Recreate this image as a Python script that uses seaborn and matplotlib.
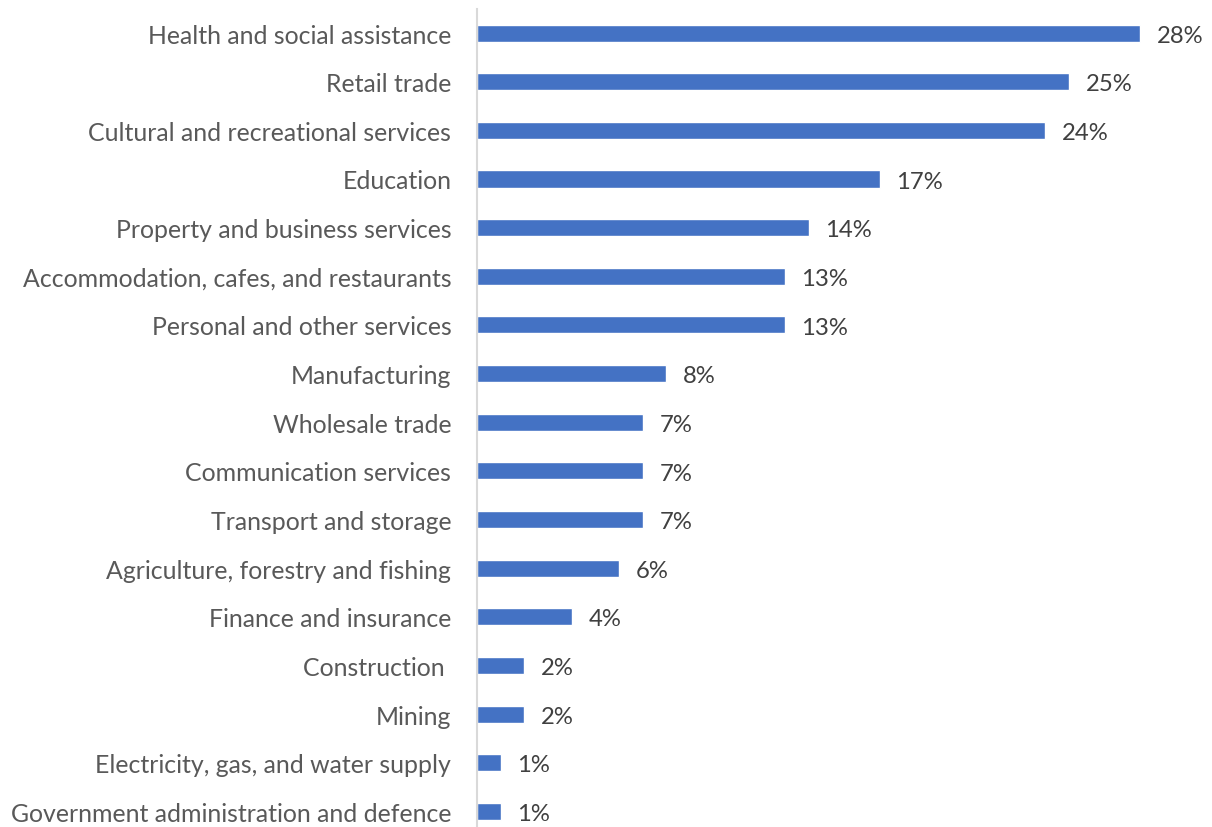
import matplotlib
matplotlib.use("Agg")
import matplotlib.pyplot as plt
import seaborn as sns
import pandas as pd

industries = [
    "Health and social assistance",
    "Retail trade",
    "Cultural and recreational services",
    "Education",
    "Property and business services",
    "Accommodation, cafes, and restaurants",
    "Personal and other services",
    "Manufacturing",
    "Wholesale trade",
    "Communication services",
    "Transport and storage",
    "Agriculture, forestry and fishing",
    "Finance and insurance",
    "Construction ",
    "Mining",
    "Electricity, gas, and water supply",
    "Government administration and defence",
]
shares = [28, 25, 24, 17, 14, 13, 13, 8, 7, 7, 7, 6, 4, 2, 2, 1, 1]

df = pd.DataFrame({"industry": industries, "share": shares})

sns.set_theme(style="white")
plt.rcParams["font.family"] = ["Lato", "DejaVu Sans"]

fig = plt.figure(figsize=(12.12, 8.28), dpi=100)
ax = fig.add_axes([0.3936, -0.0107, 0.5861, 0.999])

sns.barplot(data=df, x="share", y="industry", orient="h", color="#4472C4",
            width=0.35, saturation=1, ax=ax)

ax.set_xlim(0, 30)
ax.set_ylim(16.5, -0.5)
ax.set_xlabel("")
ax.set_ylabel("")
ax.set_xticks([])

for side in ("top", "right", "bottom"):
    ax.spines[side].set_visible(False)
ax.spines["left"].set_color("#D9D9D9")
ax.spines["left"].set_linewidth(1.5)

ax.tick_params(axis="y", length=0, pad=18.5, labelsize=17.9, labelcolor="#595959")

value_texts = ax.bar_label(ax.containers[0], labels=[f"{v}%" for v in shares],
                           padding=12, fontsize=17.2, color="#404040")
for t in value_texts:
    t.xyann = (12, -1.5)

fig.savefig("out.png", dpi=100)
